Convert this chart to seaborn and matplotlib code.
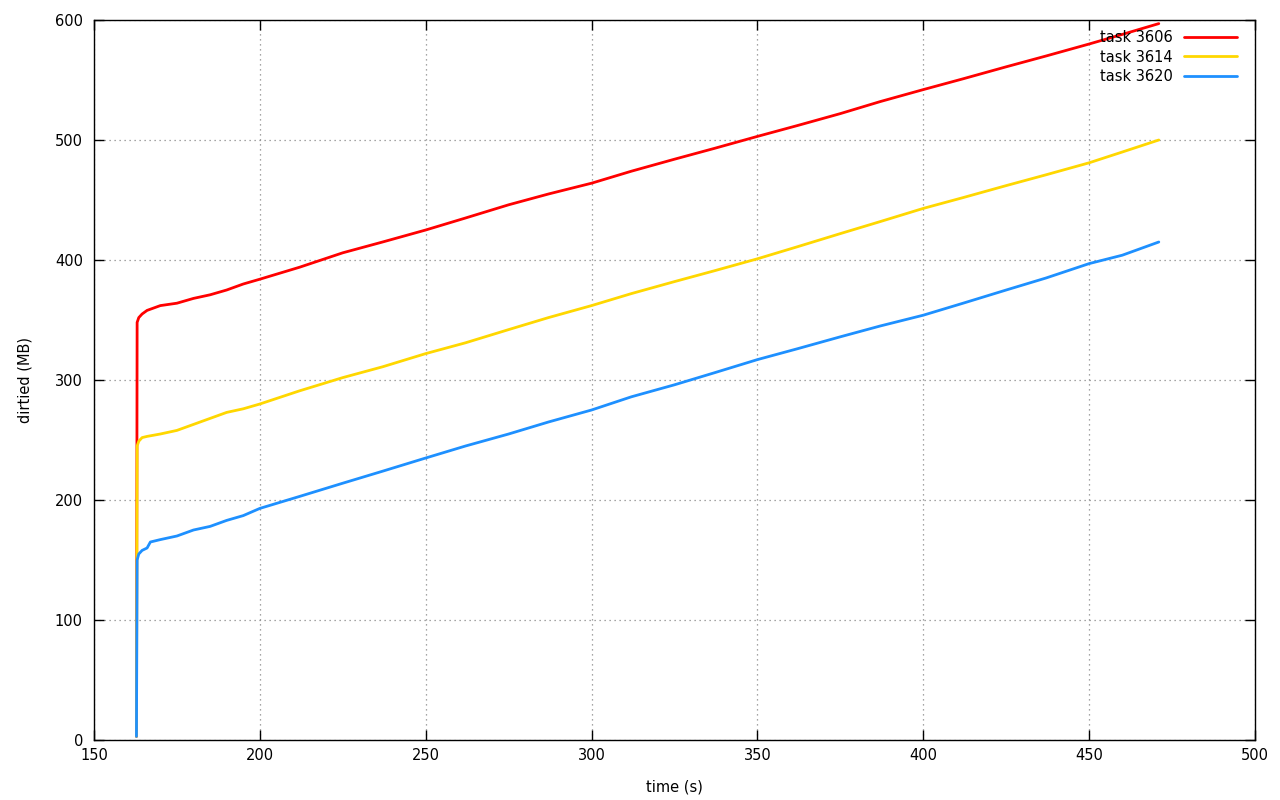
import numpy as np
import pandas as pd
import matplotlib
matplotlib.use("Agg")
import matplotlib.pyplot as plt
import seaborn as sns

# time (s) readings
time_3606 = [162.8, 163.0, 163.5, 164.5, 166.0, 168.0, 170.0, 175.0, 180.0, 185.0, 190.0, 195.0, 200.0,
             212.0, 225.0, 237.0, 250.0, 262.0, 275.0, 287.0, 300.0, 312.0, 325.0, 337.0, 350.0,
             362.0, 375.0, 387.0, 400.0, 412.0, 425.0, 437.0, 450.0, 460.0, 471.0]
dirtied_3606 = [3, 348, 352, 355, 358, 360, 362, 364, 368, 371, 375, 380, 384,
                394, 406, 415, 425, 435, 446, 455, 464, 474, 484, 493, 503,
                512, 522, 532, 542, 551, 561, 570, 580, 588, 597]

time_3614 = [162.8, 163.0, 163.5, 164.5, 166.0, 168.0, 170.0, 175.0, 180.0, 185.0, 190.0, 195.0, 200.0,
             212.0, 225.0, 237.0, 250.0, 262.0, 275.0, 287.0, 300.0, 312.0, 325.0, 337.0, 350.0,
             362.0, 375.0, 387.0, 400.0, 412.0, 425.0, 437.0, 450.0, 460.0, 471.0]
dirtied_3614 = [3, 245, 249, 252, 253, 254, 255, 258, 263, 268, 273, 276, 280,
                291, 302, 311, 322, 331, 342, 352, 362, 372, 382, 391, 401,
                411, 422, 432, 443, 452, 462, 471, 481, 490, 500]

time_3620 = [162.8, 163.0, 163.5, 164.5, 166.0, 167.0, 170.0, 175.0, 180.0, 185.0, 190.0, 195.0, 200.0,
             212.0, 225.0, 237.0, 250.0, 262.0, 275.0, 287.0, 300.0, 312.0, 325.0, 337.0, 350.0,
             362.0, 375.0, 387.0, 400.0, 412.0, 425.0, 437.0, 450.0, 460.0, 471.0]
dirtied_3620 = [3, 150, 155, 158, 160, 165, 167, 170, 175, 178, 183, 187, 193,
                203, 214, 224, 235, 245, 255, 265, 275, 286, 296, 306, 317,
                326, 336, 345, 354, 364, 375, 385, 397, 404, 415]

labels = ["task 3606", "task 3614", "task 3620"]
colors = ["#ff0000", "#ffd700", "#1e90ff"]

frames = []
for lab, t, d in zip(labels, [time_3606, time_3614, time_3620],
                     [dirtied_3606, dirtied_3614, dirtied_3620]):
    frames.append(pd.DataFrame({"time": t, "dirtied": d, "task": lab}))
df = pd.concat(frames, ignore_index=True)

sns.set_theme(style="white")
plt.rcParams["font.family"] = ["DejaVu Sans"]
plt.rcParams["text.color"] = "black"
plt.rcParams["axes.labelcolor"] = "black"
plt.rcParams["xtick.color"] = "black"
plt.rcParams["ytick.color"] = "black"

fig = plt.figure(figsize=(12.8, 8), dpi=100)
ax = fig.add_axes([94 / 1280, 60 / 800, (1255 - 94) / 1280, (740 - 20) / 800])

sns.lineplot(data=df, x="time", y="dirtied", hue="task", palette=colors,
             estimator=None, sort=False, linewidth=2, ax=ax)

ax.set_xlim(150, 500)
ax.set_ylim(0, 600)
ax.set_xticks(np.arange(150, 501, 50))
ax.set_yticks(np.arange(0, 601, 100))
ax.grid(True, linestyle=(0, (1, 3)), color="#888888", linewidth=0.9)
for s in ax.spines.values():
    s.set_color("black")
    s.set_linewidth(1.0)
ax.tick_params(direction="in", length=7, width=1, top=True, right=True,
               bottom=True, left=True, labelsize=10.5, colors="black", pad=6)
ax.tick_params(axis="y", pad=8)
ax.set_xlabel("time (s)", fontsize=10.5, labelpad=12, color="black")
ax.set_ylabel("dirtied (MB)", fontsize=10.5, labelpad=16, color="black")

leg = ax.legend(loc="upper right", bbox_to_anchor=(0.993, 1.0), frameon=False,
                markerfirst=False, fontsize=10.5, handlelength=3.6,
                labelspacing=0.3, handletextpad=0.8, borderaxespad=0.3)
for t in leg.get_texts():
    t.set_color("black")

fig.savefig("out.png", dpi=100)
